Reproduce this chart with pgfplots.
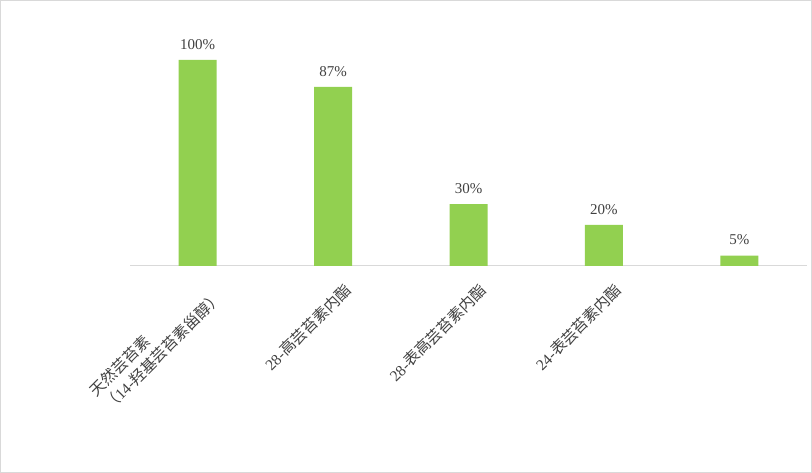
\documentclass[border=0pt]{standalone}
\usepackage{pgfplots}
\pgfplotsset{compat=1.18}
\usepackage{fontspec}
\setmainfont{Liberation Serif}
\newfontfamily\cjk{Noto Sans CJK SC}
\definecolor{bargreen}{HTML}{92D050}
\definecolor{labelgray}{HTML}{404040}
\definecolor{framegray}{HTML}{D9D9D9}

\begin{document}
\begin{tikzpicture}
\useasboundingbox (0,0) rectangle (812pt,473pt);
\draw[framegray, line width=1pt] (0.5pt,0.5pt) rectangle (811.5pt,472.5pt);
\begin{axis}[
    at={(130pt,207pt)}, anchor=south west,
    scale only axis,
    width=677pt, height=247.2pt,
    xmin=-0.5, xmax=4.5,
    ymin=0, ymax=120,
    axis x line*=bottom,
    axis y line=none,
    x axis line style={draw=framegray, line width=1pt, -},
    major tick length=0pt,
    xtick={0,1,2,3,4},
    xticklabels={
        {\cjk 天然芸苔素}\\{\cjk （}14-{\cjk 羟基芸苔素甾醇）},
        28-{\cjk 高芸苔素内酯},
        28-{\cjk 表高芸苔素内酯},
        24-{\cjk 表芸苔素内酯},
        {}},
    xticklabel style={font=\fontsize{15.5}{20}\selectfont, text=labelgray,
        inner sep=0pt, align=left, xshift=15pt, yshift=-21pt,
        rotate=45, anchor=east},
    ytick=\empty,
    clip=false,
    /pgf/number format/assume math mode=true,
    nodes near coords={\pgfmathprintnumber{\pgfplotspointmeta}\%},
    nodes near coords style={font=\fontsize{15}{17}\selectfont, text=labelgray, yshift=7pt},
]
\addplot[ybar, bar width=38pt, fill=bargreen, draw=none] coordinates {
    (0,100) (1,87) (2,30) (3,20) (4,5)
};
\end{axis}
\end{tikzpicture}
\end{document}
